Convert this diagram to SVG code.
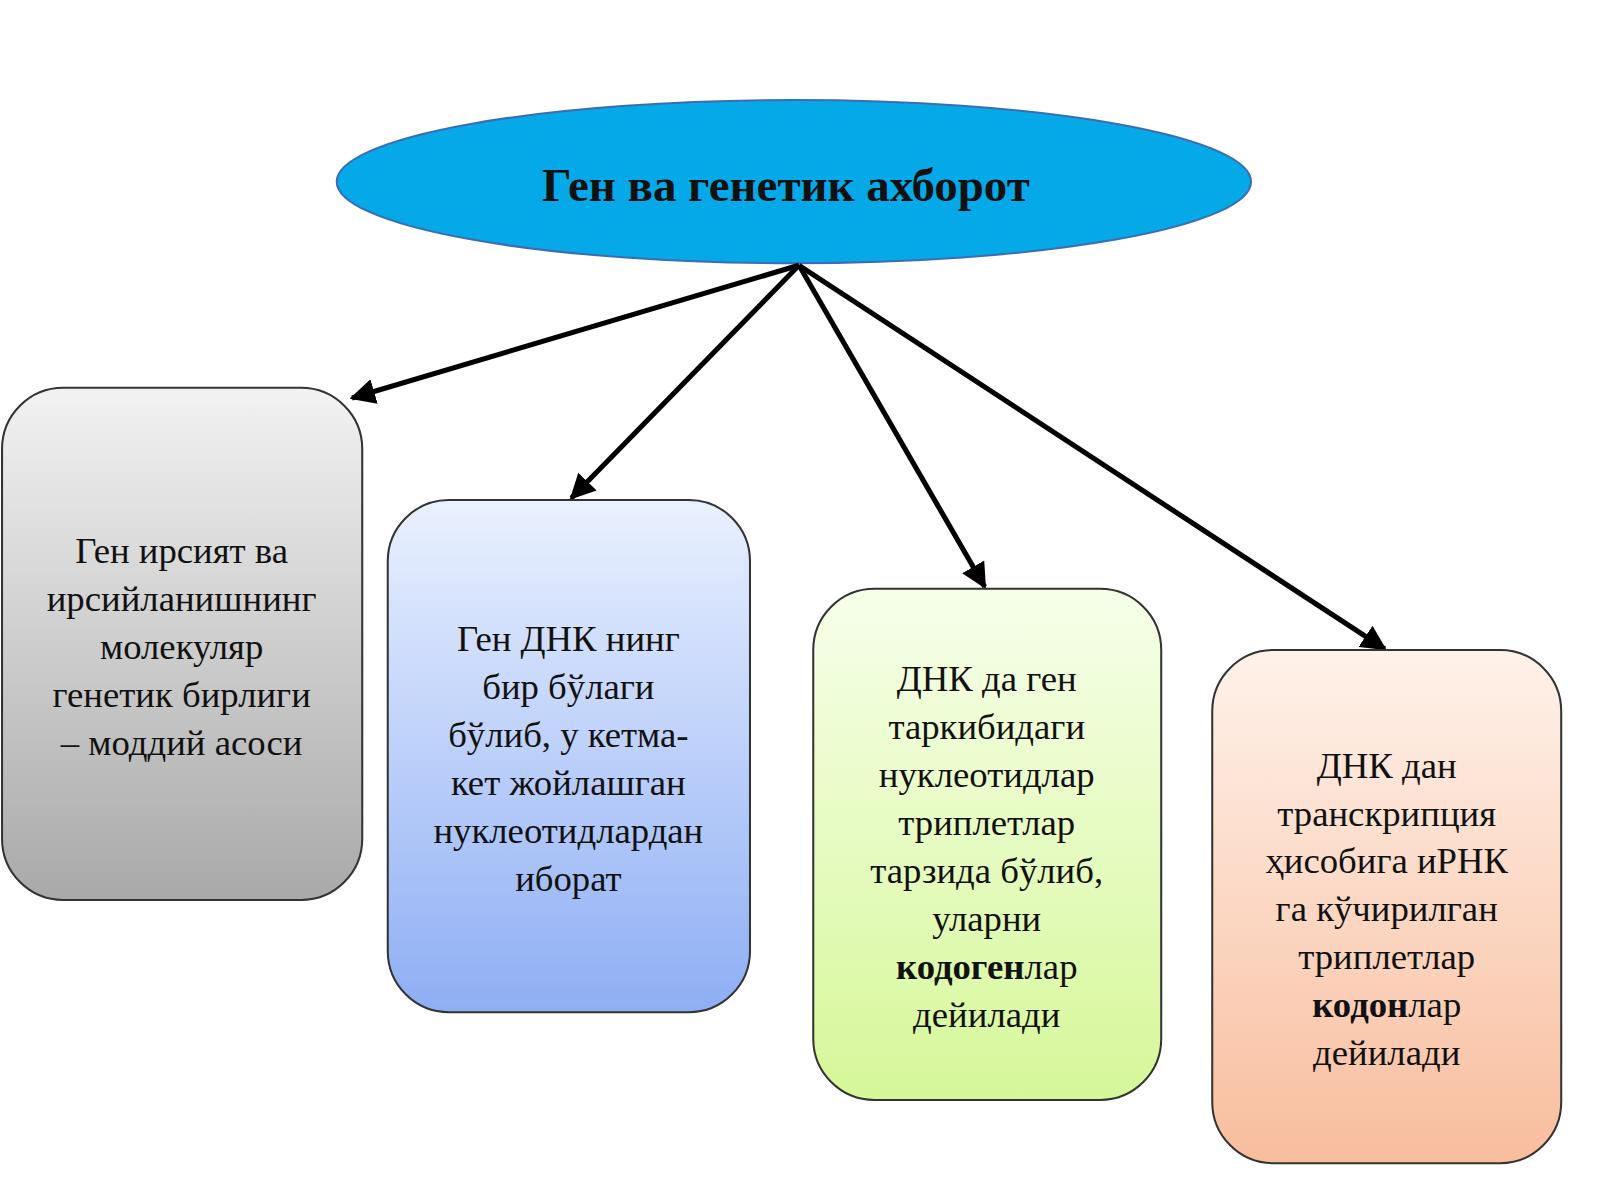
<svg xmlns="http://www.w3.org/2000/svg" width="1600" height="1200" viewBox="0 0 1600 1200">
<defs>
<linearGradient id="g1" x1="0" y1="0" x2="0" y2="1"><stop offset="0" stop-color="#f2f2f2"/><stop offset="1" stop-color="#a9a9a9"/></linearGradient>
<linearGradient id="g2" x1="0" y1="0" x2="0" y2="1"><stop offset="0" stop-color="#eaf1ff"/><stop offset="1" stop-color="#8eaef4"/></linearGradient>
<linearGradient id="g3" x1="0" y1="0" x2="0" y2="1"><stop offset="0" stop-color="#f6ffea"/><stop offset="1" stop-color="#d6f798"/></linearGradient>
<linearGradient id="g4" x1="0" y1="0" x2="0" y2="1"><stop offset="0" stop-color="#fff2ea"/><stop offset="1" stop-color="#f8bd9d"/></linearGradient>
<marker id="ah" viewBox="0 0 10 10" refX="9" refY="5" markerWidth="5" markerHeight="5" orient="auto"><path d="M0,0 L10,5 L0,10 Z" fill="#000"/></marker>
</defs>
<style>
.box{stroke:#333;stroke-width:2}
.t{font-family:"Liberation Serif",serif;font-size:36px;text-anchor:middle;fill:#111}
.c{stroke:#000;stroke-width:5;fill:none;marker-end:url(#ah)}
</style>
<rect width="1600" height="1200" fill="#fff"/>
<g transform="scale(1.0204)">
<g id="root"><ellipse cx="778" cy="178" rx="448" ry="80" fill="#05a9e8" stroke="#3a6db3" stroke-width="2"/>
<text x="770" y="197" class="t" style="font-size:46px;font-weight:bold">Ген ва генетик ахборот</text></g>
<g id="connectors">
<line class="c" x1="783" y1="260" x2="345" y2="390"/>
<line class="c" x1="783" y1="260" x2="560" y2="488"/>
<line class="c" x1="783" y1="260" x2="965" y2="575"/>
<line class="c" x1="783" y1="260" x2="1357" y2="636"/>
</g>
<g id="n1"><rect class="box" x="2" y="380" width="353" height="502" rx="60" fill="url(#g1)"/>
<text class="t"><tspan x="178" y="552">Ген ирсият ва</tspan><tspan x="178" y="599">ирсийланишнинг</tspan><tspan x="178" y="646">молекуляр</tspan><tspan x="178" y="693">генетик бирлиги</tspan><tspan x="178" y="740">– моддий асоси</tspan></text></g>
<g id="n2"><rect class="box" x="380" y="490" width="355" height="502" rx="60" fill="url(#g2)"/>
<text class="t"><tspan x="557" y="638">Ген ДНК нинг</tspan><tspan x="557" y="685">бир бўлаги</tspan><tspan x="557" y="732">бўлиб, у кетма-</tspan><tspan x="557" y="779">кет жойлашган</tspan><tspan x="557" y="826">нуклеотидлардан</tspan><tspan x="557" y="873">иборат</tspan></text></g>
<g id="n3"><rect class="box" x="797" y="577" width="341" height="501" rx="60" fill="url(#g3)"/>
<text class="t"><tspan x="967" y="677">ДНК да ген</tspan><tspan x="967" y="724">таркибидаги</tspan><tspan x="967" y="771">нуклеотидлар</tspan><tspan x="967" y="818">триплетлар</tspan><tspan x="967" y="865">тарзида бўлиб,</tspan><tspan x="967" y="912">уларни</tspan><tspan x="967" y="959"><tspan font-weight="bold">кодоген</tspan>лар</tspan><tspan x="967" y="1006">дейилади</tspan></text></g>
<g id="n4"><rect class="box" x="1188" y="637" width="342" height="503" rx="60" fill="url(#g4)"/>
<text class="t"><tspan x="1359" y="762">ДНК дан</tspan><tspan x="1359" y="809">транскрипция</tspan><tspan x="1359" y="856">ҳисобига  иРНК</tspan><tspan x="1359" y="903">га кўчирилган</tspan><tspan x="1359" y="950">триплетлар</tspan><tspan x="1359" y="997"><tspan font-weight="bold">кодон</tspan>лар</tspan><tspan x="1359" y="1044">дейилади</tspan></text></g>
</g>
</svg>
